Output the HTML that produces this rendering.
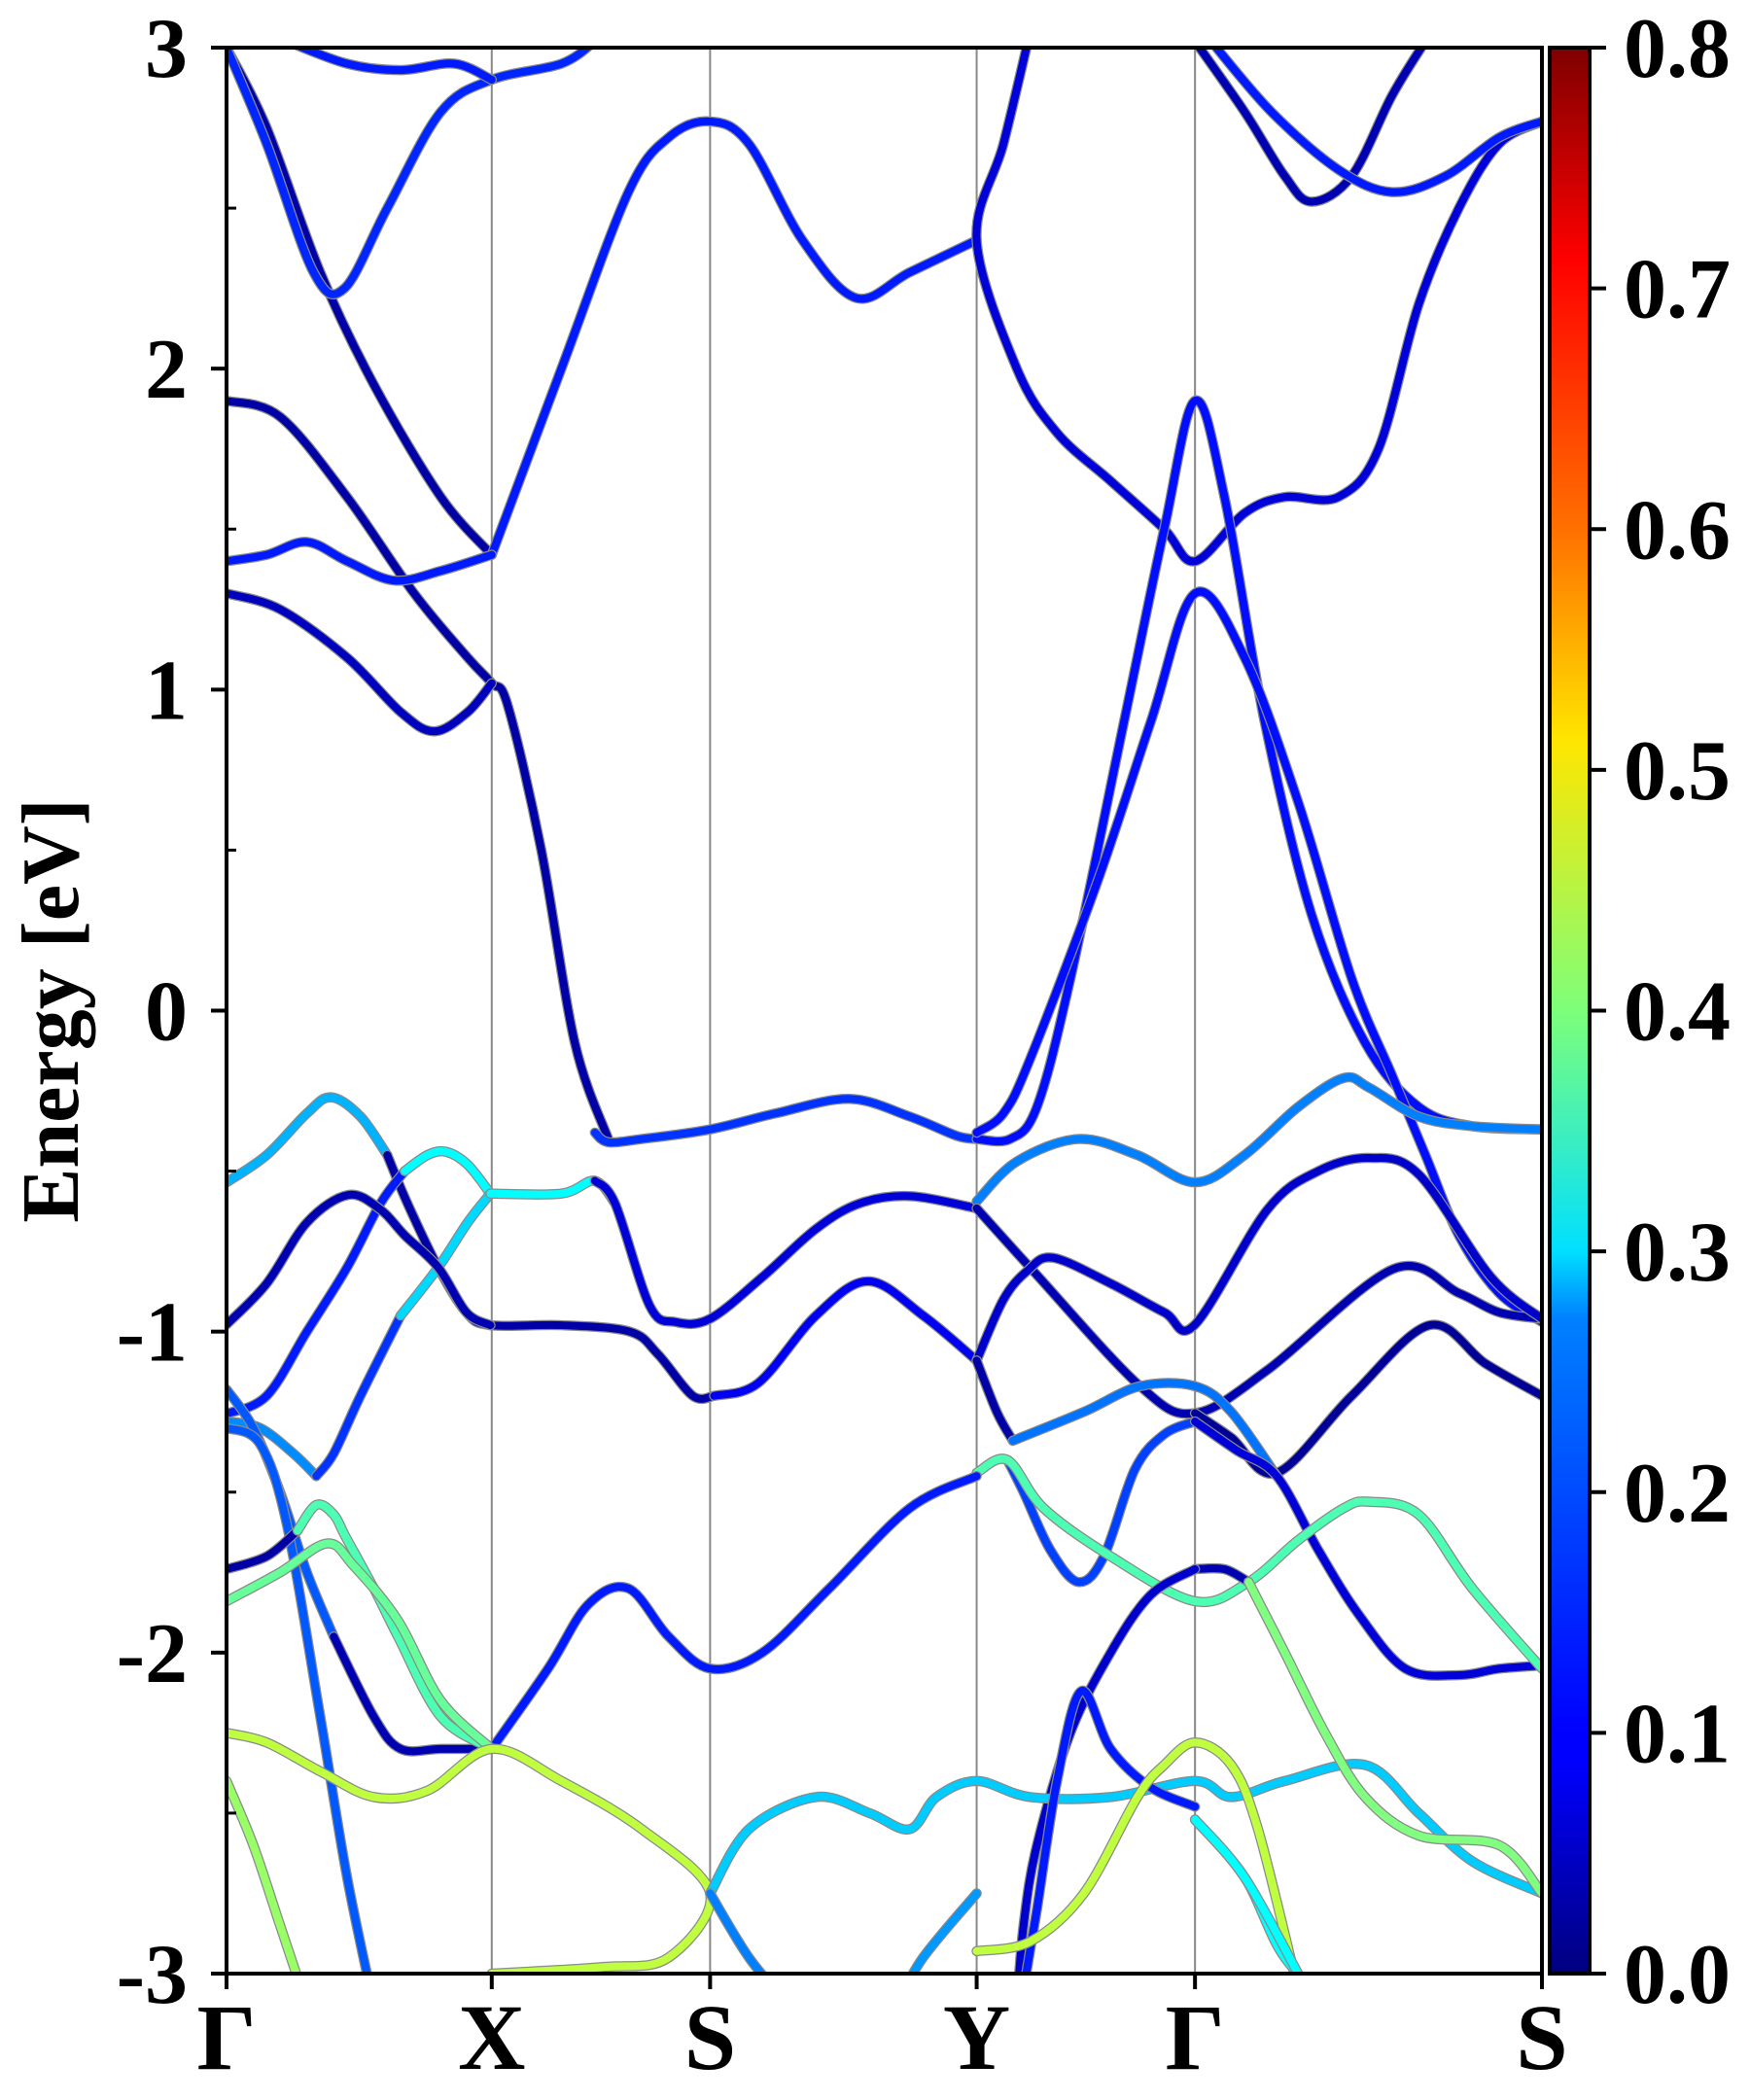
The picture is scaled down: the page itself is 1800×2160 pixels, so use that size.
<!DOCTYPE html>
<html><head><meta charset="utf-8"><style>
html,body{margin:0;padding:0;background:#fff}
svg{display:block}
text{font-family:"Liberation Serif",serif;font-weight:bold;fill:#000}
</style></head><body>
<svg id="chart" width="1800" height="2160" viewBox="0 0 1800 2160" xmlns="http://www.w3.org/2000/svg">
<defs>
<linearGradient id="jet" x1="0" y1="1" x2="0" y2="0">
<stop offset="0" stop-color="#00007f"/><stop offset="0.11" stop-color="#0000ff"/>
<stop offset="0.125" stop-color="#0000ff"/><stop offset="0.34" stop-color="#0080ff"/>
<stop offset="0.375" stop-color="#00e0ff"/><stop offset="0.5" stop-color="#7dff7a"/>
<stop offset="0.64" stop-color="#ffe600"/><stop offset="0.75" stop-color="#ff7000"/>
<stop offset="0.89" stop-color="#ff0000"/><stop offset="1" stop-color="#7f0000"/>
</linearGradient>
<clipPath id="plotclip"><rect x="233" y="49" width="1353" height="1981"/></clipPath>
</defs>
<g id="bands" clip-path="url(#plotclip)"></g>
<g id="axes"></g>
</svg>
<script>
const kLabels=["Γ","X","S","Y","Γ","S"];
const kPos=[0,198,361,560,723,982];
const yTicks=[-3,-2,-1,0,1,2,3];
const cbTicks=[0.0,0.1,0.2,0.3,0.4,0.5,0.6,0.7,0.8];
const bandK=[
[0,30,70,110,160,198],
[198,250,300,330,361,390,430,470,510,560],
[0,30,65,88,120,160,198,250,275],
[45,90,130,170,198],
[0,40,90,140,180,198,210,235,260,285],
[275,285,310,361,410,465,510,545,560],
[0,30,60,90,125,160,198],
[0,40,90,130,155,180,198],
[600,580,560,590,620,660,700,723,760,790,830,860,890,920,950,982],
[560,585,605,630,670,700,723,745,775,810,850,890,930,982],
[560,580,600,650,690,723,760,800,840,870,895,920,950,982],
[723,760,790,810,840,870,895],
[735,780,830,870,910,950,982],
[0,30,60,78,100,120],
[120,135,158,179,197,250,301,322,348,364],
[364,397,440,479,520,560],
[0,30,60,90,115,133],
[133,150,164,180,197],
[0,25,50,67],
[67,80,100,130],
[130,158,180,197],
[0,30,60,91,115,133,158,179,197],
[197,250,275,290],
[275,290,316,335,361,400,440,473,511,560],
[560,590,636,680,723,760,800,834,853,890,930,982],
[560,602,682,723,777,871,920,950,982],
[723,750,784,840,898,940,982],
[560,580,598,617,660,700,723,777,815,853,890,944,982],
[560,575,587],
[587,640,682,723,750,784],
[583,595,615,636,655,678,700,723],
[723,754,784,815,845,880,920,950,982],
[560,583,610,660,723,763,800,834,853,890,930,982],
[198,240,270,300,330,361,400,450,510,560],
[0,20,40,60,80],
[80,110,130,160,198],
[0,25,45,70,90,110],
[0,30,53],
[53,67,80,89,110,128,160,198],
[0,40,75,95,128,160,198],
[723,745,763],
[723,690,660,630,605,595,590],
[0,30,70,110,150,198,250,310,361,330,280,198],
[361,390,440,480,510,530,560,600,660,723,750,790,850,890,930,982],
[361,390,420],
[595,605,620,638,660,690,723],
[560,600,640,680,700,723,750,770,800],
[763,790,820,850,890,950,982],
[723,760,790,830,890,950,982],
[0,20,40,60],
[560,520,500],
[723,760,800]
];
const bandE=[
[3.0,2.75,2.3,1.95,1.6,1.42],
[1.42,2.0,2.55,2.72,2.77,2.7,2.4,2.22,2.3,2.4],
[3.0,2.7,2.3,2.25,2.5,2.8,2.9,2.95,3.02],
[3.02,2.95,2.93,2.95,2.9],
[1.9,1.85,1.6,1.3,1.1,1.02,0.95,0.5,-0.1,-0.4],
[-0.38,-0.41,-0.4,-0.37,-0.32,-0.275,-0.33,-0.39,-0.4],
[1.4,1.42,1.46,1.4,1.34,1.37,1.42],
[1.3,1.25,1.1,0.93,0.87,0.93,1.02],
[3.05,2.7,2.4,2.0,1.8,1.65,1.5,1.4,1.55,1.6,1.6,1.75,2.2,2.5,2.7,2.77],
[-0.4,-0.4,-0.3,0.1,0.9,1.5,1.9,1.6,0.9,0.3,-0.1,-0.3,-0.36,-0.37],
[-0.38,-0.32,-0.15,0.4,0.9,1.3,1.1,0.65,0.1,-0.2,-0.45,-0.7,-0.88,-0.97],
[3.02,2.8,2.6,2.52,2.6,2.85,3.02],
[3.02,2.8,2.62,2.55,2.6,2.72,2.77],
[-0.535,-0.45,-0.32,-0.27,-0.33,-0.45],
[-0.45,-0.6,-0.8,-0.94,-0.98,-0.98,-1.0,-1.07,-1.2,-1.2],
[-1.2,-1.16,-0.95,-0.843,-0.95,-1.09],
[-1.256,-1.2,-1.0,-0.8,-0.6,-0.5],
[-0.5,-0.45,-0.44,-0.48,-0.57],
[-1.28,-1.3,-1.38,-1.45],
[-1.45,-1.38,-1.2,-0.95],
[-0.95,-0.8,-0.66,-0.57],
[-0.978,-0.85,-0.66,-0.574,-0.62,-0.7,-0.8,-0.94,-0.98],
[-0.57,-0.57,-0.53,-0.6],
[-0.53,-0.6,-0.92,-0.97,-0.96,-0.83,-0.68,-0.6,-0.578,-0.616],
[-0.594,-0.47,-0.4,-0.45,-0.535,-0.45,-0.3,-0.21,-0.24,-0.33,-0.36,-0.37],
[-0.616,-0.81,-1.17,-1.254,-1.12,-0.805,-0.88,-0.94,-0.96],
[-1.254,-1.33,-1.44,-1.2,-0.98,-1.1,-1.2],
[-1.09,-0.9,-0.81,-0.77,-0.85,-0.94,-0.978,-0.62,-0.5,-0.459,-0.51,-0.83,-0.96],
[-1.09,-1.25,-1.34],
[-1.34,-1.25,-1.17,-1.17,-1.25,-1.45],
[-1.4,-1.5,-1.68,-1.78,-1.7,-1.43,-1.32,-1.28],
[-1.28,-1.37,-1.45,-1.68,-1.88,-2.05,-2.07,-2.05,-2.04],
[-1.44,-1.4,-1.55,-1.7,-1.84,-1.78,-1.65,-1.55,-1.53,-1.57,-1.8,-2.05],
[-2.3,-2.05,-1.85,-1.8,-1.95,-2.05,-2.0,-1.8,-1.55,-1.45],
[-1.18,-1.3,-1.5,-1.75,-1.95],
[-1.95,-2.2,-2.3,-2.3,-2.3],
[-1.3,-1.35,-1.6,-2.2,-2.7,-3.1],
[-1.74,-1.7,-1.62],
[-1.62,-1.54,-1.57,-1.64,-1.8,-1.95,-2.2,-2.3],
[-1.84,-1.75,-1.66,-1.73,-1.9,-2.15,-2.3],
[-1.74,-1.74,-1.78],
[-1.74,-1.82,-2.0,-2.25,-2.6,-2.85,-3.1],
[-2.25,-2.28,-2.37,-2.45,-2.43,-2.3,-2.4,-2.55,-2.75,-2.95,-2.98,-3.0],
[-2.75,-2.55,-2.45,-2.5,-2.55,-2.45,-2.4,-2.45,-2.45,-2.4,-2.45,-2.4,-2.35,-2.5,-2.65,-2.75],
[-2.75,-2.95,-3.1],
[-3.05,-2.8,-2.4,-2.12,-2.3,-2.42,-2.48],
[-2.93,-2.9,-2.75,-2.45,-2.35,-2.28,-2.35,-2.55,-3.05],
[-1.78,-2.0,-2.25,-2.45,-2.57,-2.6,-2.75],
[-2.52,-2.7,-2.95,-3.1,-3.2,-3.2,-3.2],
[-2.4,-2.6,-2.85,-3.1],
[-2.75,-2.95,-3.1],
[-2.52,-2.7,-3.0]
];
const bandW=[0.03,0.12,0.13,0.12,0.03,0.14,0.12,0.05,0.07,0.11,0.11,0.04,0.12,
0.24,0.03,0.09,0.12,0.3,0.21,0.14,0.27,0.04,0.3,0.07,0.2,0.04,0.02,0.06,0.03,0.19,0.15,0.07,0.36,0.12,0.17,0.04,0.17,0.03,0.36,0.38,0.04,0.06,0.45,0.26,0.2,0.12,0.45,0.4,0.3,0.42,0.22,0.3];

const L=233,R=1586,T=49,B=2030,KMAX=982;
const xOf=k=>L+k/KMAX*(R-L);
const yOf=e=>T+(3-e)/6*(B-T);
function jet(v){const t=Math.max(0,Math.min(1,v/0.8));const c=f=>Math.round(255*Math.max(0,Math.min(1,f)));
return `rgb(${c(1.5-Math.abs(4*t-3))},${c(1.5-Math.abs(4*t-2))},${c(1.5-Math.abs(4*t-1))})`;}
function pathD(ks,es){const p=ks.map((k,i)=>[xOf(k),yOf(es[i])]);let d=`M${p[0][0]},${p[0][1]}`;
for(let i=0;i<p.length-1;i++){const p0=p[Math.max(0,i-1)],p1=p[i],p2=p[i+1],p3=p[Math.min(p.length-1,i+2)];
d+=` C${p1[0]+(p2[0]-p0[0])/6},${p1[1]+(p2[1]-p0[1])/6} ${p2[0]-(p3[0]-p1[0])/6},${p2[1]-(p3[1]-p1[1])/6} ${p2[0]},${p2[1]}`;}return d;}
const NS="http://www.w3.org/2000/svg";
function mk(tag,attrs,parent){const e=document.createElementNS(NS,tag);for(const a in attrs)e.setAttribute(a,attrs[a]);parent.appendChild(e);return e;}
const bands=document.getElementById('bands'),axes=document.getElementById('axes');
kPos.slice(1,-1).forEach(k=>{const l=mk('line',{x1:xOf(k),x2:xOf(k),y1:T,y2:B,stroke:'#888','stroke-width':2},bands);

});
bandK.forEach((ks,i)=>{
const g=mk('g',{},bands);


const d=pathD(ks,bandE[i]);
mk('path',{d,fill:'none',stroke:'#8a8a8a','stroke-width':10.5,'stroke-linecap':'round','stroke-linejoin':'round'},g);
mk('path',{d,fill:'none',stroke:jet(bandW[i]),'stroke-width':8,'stroke-linecap':'round','stroke-linejoin':'round'},g);
});
const fr=mk('rect',{x:L,y:T,width:R-L,height:B-T,fill:'none',stroke:'#000','stroke-width':4},axes);


yTicks.forEach(v=>{const y=yOf(v);
mk('line',{x1:L-16,x2:L,y1:y,y2:y,stroke:'#000','stroke-width':4},axes);
const t=mk('text',{x:L-40,y:y+30,'text-anchor':'end','font-size':88},axes);t.textContent=String(v);

});
for(let v=-2.5;v<3;v+=1){const y=yOf(v);mk('line',{x1:L,x2:L+10,y1:y,y2:y,stroke:'#000','stroke-width':3},axes);}
kPos.forEach((k,i)=>{const x=xOf(k);
mk('line',{x1:x,x2:x,y1:B,y2:B+16,stroke:'#000','stroke-width':4},axes);
const t=mk('text',{x:x,y:B+98,'text-anchor':'middle','font-size':96},axes);t.textContent=kLabels[i];

});
const yl=mk('text',{x:0,y:0,'text-anchor':'middle','font-size':84,transform:`translate(80,${(T+B)/2}) rotate(-90)`},axes);
yl.textContent='Energy [eV]';


const CX=1594,CW=41;
const cb=mk('rect',{x:CX,y:T,width:CW,height:B-T,fill:'url(#jet)',stroke:'#000','stroke-width':4},axes);


cbTicks.forEach(v=>{const y=B-v/0.8*(B-T);
mk('line',{x1:CX+CW,x2:CX+CW+17,y1:y,y2:y,stroke:'#000','stroke-width':4},axes);
const t=mk('text',{x:1670,y:y+30,'font-size':88},axes);t.textContent=v.toFixed(1);

});
</script>
</body></html>
